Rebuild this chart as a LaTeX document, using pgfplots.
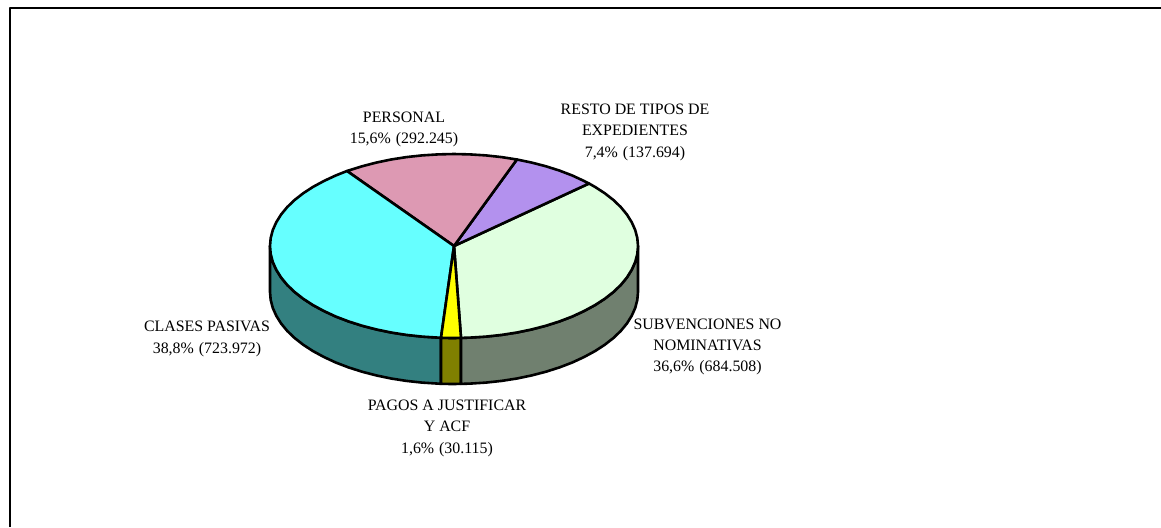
\documentclass[border=0pt]{standalone}
\usepackage{fontspec}
\setmainfont{Liberation Serif}
\usepackage{pgfplots}
\pgfplotsset{compat=1.18}
\definecolor{cCyan}{HTML}{66FFFF}
\definecolor{cTeal}{HTML}{338080}
\definecolor{cPink}{HTML}{DD99B3}
\definecolor{cPurple}{HTML}{B391EE}
\definecolor{cGreen}{HTML}{E0FFE0}
\definecolor{cGray}{HTML}{70806F}
\definecolor{cYellow}{HTML}{FFFF00}
\definecolor{cOlive}{HTML}{808000}
\tikzset{lab/.style={font=\fontsize{15.9}{21.3}\selectfont, align=center, anchor=center, inner sep=0pt}}
\begin{document}
\begin{tikzpicture}
\begin{axis}[
  scale only axis, width=1161pt, height=527pt,
  xmin=0, xmax=1161, ymin=0, ymax=527, y dir=reverse,
  hide axis, clip=true,
  every axis plot/.append style={no markers, line join=round, line width=2.6pt, draw=black, forget plot},
]
% page extent
\addplot[fill=white, draw=none] coordinates {(0,0) (1161,0) (1161,527) (0,527)} -- cycle;
% frame
\addplot[line width=2pt] coordinates {(9.5,527) (9.5,8) (1161,8)};
% side faces
\addplot[fill=cTeal] coordinates {
(270,246)(270.7,254)(272.8,262)(276.3,269.8)(281.1,277.5)(287.2,284.9)(294.6,292)(303.3,298.8)(313,305.1)(323.9,311)(335.7,316.5)(348.5,321.4)(362,325.7)(376.2,329.4)(391.1,332.5)(406.4,334.9)(422.1,336.6)(441,337.8)
(441,383.8)(422.1,382.6)(406.4,380.9)(391.1,378.5)(376.2,375.4)(362,371.7)(348.5,367.4)(335.7,362.5)(323.9,357)(313,351.1)(303.3,344.8)(294.6,338)(287.2,330.9)(281.1,323.5)(276.3,315.8)(272.8,308)(270.7,300)(270,292)} -- cycle;
\addplot[fill=cOlive] coordinates {(441,337.8)(451,338)(461,337.9)(461,383.9)(451,384)(441,383.8)} -- cycle;
\addplot[fill=cGray] coordinates {
(461,337.9)(470,337.6)(485.9,336.6)(501.6,334.9)(516.9,332.5)(531.8,329.4)(546,325.7)(559.5,321.4)(572.3,316.5)(584.1,311)(595,305.1)(604.7,298.8)(613.4,292)(620.8,284.9)(626.9,277.5)(631.7,269.8)(635.2,262)(637.3,254)(638,246)
(638,292)(637.3,300)(635.2,308)(631.7,315.8)(626.9,323.5)(620.8,330.9)(613.4,338)(604.7,344.8)(595,351.1)(584.1,357)(572.3,362.5)(559.5,367.4)(546,371.7)(531.8,375.4)(516.9,378.5)(501.6,380.9)(485.9,382.6)(470,383.6)(461,383.9)} -- cycle;
% top faces
\addplot[fill=cGreen] coordinates {(454,246)
(589,183.5)(595,186.9)(604.7,193.2)(613.4,200)(620.8,207.1)(626.9,214.5)(631.7,222.2)(635.2,230)(637.3,238)(638,246)(637.3,254)(635.2,262)(631.7,269.8)(626.9,277.5)(620.8,284.9)(613.4,292)(604.7,298.8)(595,305.1)(584.1,311)(572.3,316.5)(559.5,321.4)(546,325.7)(531.8,329.4)(516.9,332.5)(501.6,334.9)(485.9,336.6)(470,337.6)(461,337.9)} -- cycle;
\addplot[fill=cPurple] coordinates {(454,246)
(516.9,159.5)(531.8,162.6)(546,166.3)(559.5,170.6)(572.3,175.5)(584.1,181)(589,183.5)} -- cycle;
\addplot[fill=cPink] coordinates {(454,246)
(347,171)(362,166.3)(376.2,162.6)(391.1,159.5)(406.4,157.1)(422.1,155.4)(438,154.4)(454,154)(470,154.4)(485.9,155.4)(501.6,157.1)(516.9,159.5)} -- cycle;
\addplot[fill=cCyan] coordinates {(454,246)
(441,337.8)(422.1,336.6)(406.4,334.9)(391.1,332.5)(376.2,329.4)(362,325.7)(348.5,321.4)(335.7,316.5)(323.9,311)(313,305.1)(303.3,298.8)(294.6,292)(287.2,284.9)(281.1,277.5)(276.3,269.8)(272.8,262)(270.7,254)(270,246)(270.7,238)(272.8,230)(276.3,222.2)(281.1,214.5)(287.2,207.1)(294.6,200)(303.3,193.2)(313,186.9)(323.9,181)(335.7,175.5)(347,171)} -- cycle;
\addplot[fill=cYellow] coordinates {(454,246)(461,337.9)(451,338)(441,337.8)} -- cycle;
% labels
\node[lab] at (axis cs:404,129.3) {PERSONAL\\15,6\%\hspace{5pt}(292.245)};
\node[lab] at (axis cs:635,132.3) {RESTO DE TIPOS DE\\EXPEDIENTES\\7,4\%\hspace{5pt}(137.694)};
\node[lab] at (axis cs:207,338.8) {CLASES PASIVAS\\38,8\%\hspace{5pt}(723.972)};
\node[lab] at (axis cs:707.5,346.8) {SUBVENCIONES NO\\NOMINATIVAS\\36,6\%\hspace{5pt}(684.508)};
\node[lab] at (axis cs:447,428.3) {PAGOS A JUSTIFICAR\\Y ACF\\1,6\%\hspace{5pt}(30.115)};
\end{axis}
\end{tikzpicture}
\end{document}
